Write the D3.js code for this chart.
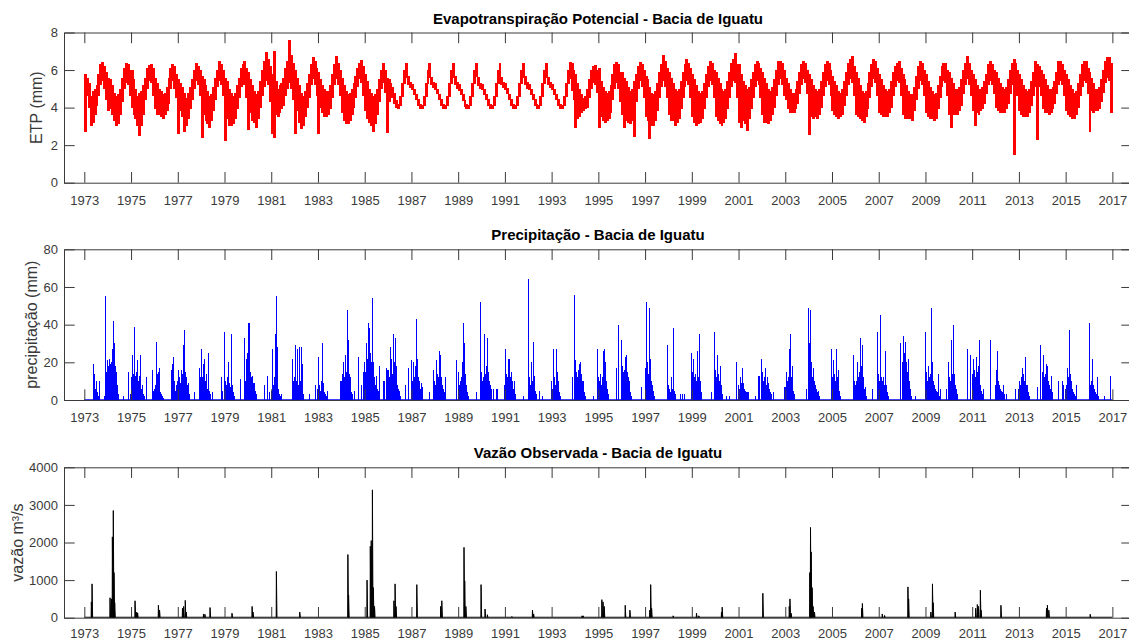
<!DOCTYPE html>
<html>
<head>
<meta charset="utf-8">
<script src="https://cdn.jsdelivr.net/npm/d3@7"></script>
<style>
  body { margin: 0; background: #ffffff; }
  svg { display: block; }
  text { font-family: "Liberation Sans", Arial, Helvetica, sans-serif; }
</style>
</head>
<body>
<svg id="chart" width="1129" height="640"></svg>
<script>
// ---------------------------------------------------------------
// Series: Iguatu basin, 1973-2016
// ---------------------------------------------------------------
const firstYear = 1973;
const lastYear = 2017;
const yearTicks = d3.range(1973, 2018, 2);

// Potential evapotranspiration (mm/day): monthly upper / lower envelope, one row per year
const etpHigh = [
  [5.8,5.6,5.3,4.6,4.9,5.0,5.2,5.8,6.3,6.45,6.2,5.9],   // 1973
  [5.6,5.5,5.2,4.8,4.6,4.7,5.0,5.6,6.1,6.35,6.3,6.0],
  [6.0,5.5,5.0,4.6,4.8,4.9,5.2,5.6,6.1,6.25,6.3,6.1],   // 1975
  [5.6,5.3,5.0,4.9,4.7,4.8,5.1,5.6,6.1,6.3,6.2,5.8],
  [5.5,5.3,5.1,4.8,4.5,4.8,5.1,5.5,6.0,6.4,6.2,6.0],    // 1977
  [5.7,5.5,5.2,4.9,4.6,4.7,5.1,5.6,6.0,6.5,6.3,6.0],
  [5.6,5.4,5.0,4.8,4.6,4.8,5.2,5.6,6.1,6.3,6.5,6.1],    // 1979
  [5.9,5.5,5.2,4.9,4.7,4.9,5.4,6.0,6.5,6.95,6.6,6.2],
  [5.8,7.0,5.4,5.0,5.2,5.3,5.6,6.1,6.5,7.6,6.8,6.4],    // 1981
  [6.0,5.6,5.2,4.8,4.6,4.9,5.3,5.8,6.3,6.7,6.5,6.1],
  [5.9,5.5,5.2,5.0,4.9,4.9,5.2,5.8,6.3,6.75,6.4,6.0],   // 1983
  [5.6,5.2,4.9,4.7,4.8,5.0,5.3,5.7,6.1,6.4,6.55,6.2],
  [5.8,5.4,5.0,4.8,4.6,4.7,5.0,5.5,6.0,6.35,6.0,5.6],   // 1985
  [5.5,5.3,5.1,4.8,4.4,4.2,4.6,5.3,6.0,6.35,5.7,5.35],
  [5.25,5.0,4.7,4.45,4.2,4.15,4.6,5.3,6.0,6.35,5.65,5.35], // 1987
  [5.3,5.0,4.75,4.45,4.2,4.15,4.6,5.3,6.0,6.35,5.7,5.35],
  [5.25,5.0,4.7,4.4,4.2,4.15,4.6,5.3,6.0,6.4,5.65,5.3],  // 1989
  [5.25,5.0,4.7,4.45,4.2,4.15,4.6,5.3,6.0,6.35,5.65,5.35],
  [5.3,5.05,4.7,4.45,4.2,4.15,4.6,5.3,6.0,6.35,5.7,5.35], // 1991
  [5.25,5.0,4.7,4.45,4.2,4.15,4.6,5.3,6.0,6.35,5.65,5.35],
  [5.25,5.0,4.7,4.45,4.2,4.15,4.6,5.3,6.0,6.45,6.4,6.0],  // 1993
  [5.8,5.3,5.0,4.7,4.5,4.6,5.0,5.5,6.0,6.2,6.26,6.0],
  [6.1,5.4,5.1,4.9,4.8,4.9,5.2,5.8,6.3,6.45,6.3,5.9],    // 1995
  [5.9,5.6,5.4,5.1,4.9,5.0,5.4,5.8,6.2,6.45,6.3,6.0],
  [5.7,5.5,5.1,4.8,4.7,4.9,5.3,5.9,6.3,6.8,6.5,6.1],     // 1997
  [5.9,5.6,5.3,5.0,4.9,5.0,5.4,5.9,6.3,6.6,6.4,6.1],
  [5.8,5.5,5.2,4.9,4.8,4.9,5.3,5.8,6.2,6.5,6.4,6.0],     // 1999
  [5.9,5.6,5.3,5.0,4.9,5.0,5.4,5.9,6.4,6.6,6.9,6.3],
  [6.3,5.8,5.4,5.2,5.0,5.1,5.5,5.9,6.3,6.5,6.4,6.1],     // 2001
  [5.9,5.6,5.3,5.0,4.9,5.1,5.5,6.0,6.5,6.5,6.4,6.0],
  [5.6,5.3,5.0,4.8,4.8,5.0,5.4,5.9,6.3,6.5,6.4,6.0],     // 2003
  [5.8,5.5,5.2,5.0,4.9,5.0,5.4,5.9,6.3,6.5,6.4,6.0],
  [5.7,5.4,5.2,4.9,4.8,5.0,5.4,5.9,6.4,6.6,6.75,6.2],    // 2005
  [5.9,5.6,5.2,4.9,4.8,4.9,5.3,5.9,6.3,6.6,6.5,6.1],
  [5.8,5.5,5.2,5.0,4.9,5.0,5.4,5.9,6.2,6.4,6.5,6.1],     // 2007
  [5.8,5.5,5.2,4.9,4.7,4.7,5.1,5.7,6.2,6.5,6.4,6.0],
  [5.8,5.4,5.1,4.9,4.7,4.8,5.2,5.7,6.2,6.4,6.4,6.0],     // 2009
  [5.9,5.6,5.3,5.0,5.0,5.1,5.5,6.0,6.4,6.75,6.4,6.0],
  [5.8,5.5,5.2,5.0,5.0,5.1,5.4,5.8,6.3,6.5,6.3,6.0],     // 2011
  [5.9,5.6,5.3,5.1,5.0,5.1,5.5,6.0,6.4,6.6,6.4,6.0],
  [5.8,5.5,5.2,5.0,4.9,5.0,5.4,5.9,6.5,6.3,6.2,6.0],     // 2013
  [5.8,5.5,5.2,5.0,5.0,5.1,5.4,5.9,6.5,6.5,6.3,6.0],
  [5.8,5.5,5.2,5.0,4.8,4.9,5.3,5.8,6.3,6.5,6.5,6.1],     // 2015
  [5.9,5.6,5.3,5.0,5.0,5.1,5.5,6.0,6.5,6.7,6.7,6.4]
];
const etpLow = [
  [2.7,4.6,4.0,3.0,3.2,3.6,4.1,4.6,5.2,5.4,5.0,4.4],    // 1973
  [3.8,3.9,3.6,3.3,3.0,3.1,3.6,4.3,5.0,5.3,5.2,4.6],
  [4.0,3.6,3.4,3.0,2.5,3.0,3.6,4.4,5.0,5.4,5.3,4.6],    // 1975
  [3.9,3.6,3.6,3.5,3.4,3.6,3.8,4.2,5.0,5.4,5.0,4.5],
  [2.6,3.8,3.5,2.7,3.0,3.4,3.9,4.4,5.0,5.4,5.2,4.6],    // 1977
  [2.4,3.6,3.3,3.1,2.9,3.3,3.8,4.4,5.1,5.4,5.2,4.6],
  [2.2,3.4,3.0,3.0,3.1,3.4,3.9,4.5,5.1,5.3,5.2,4.5],    // 1979
  [2.8,3.7,3.3,3.2,2.9,3.4,4.0,4.6,5.1,5.4,5.2,4.3],
  [2.6,2.4,3.6,3.5,3.7,3.9,4.1,4.6,5.0,5.3,5.0,4.4],    // 1981
  [2.6,3.8,3.2,2.85,3.0,3.5,4.0,4.5,5.2,5.5,5.2,4.6],
  [2.6,4.0,3.7,3.5,3.5,3.6,3.9,4.5,5.2,5.5,5.2,4.6],    // 1983
  [3.7,3.3,3.1,3.1,3.3,3.6,4.0,4.5,5.1,5.5,5.3,4.6],
  [3.8,3.4,3.2,3.0,2.7,3.1,3.6,4.3,5.0,5.3,4.8,2.65],   // 1985
  [4.3,4.7,4.5,4.2,4.0,3.95,4.1,4.55,5.25,5.6,5.2,5.05],
  [4.95,4.65,4.4,4.1,3.95,3.95,4.1,4.55,5.25,5.6,5.2,5.05], // 1987
  [4.95,4.7,4.4,4.1,3.95,3.95,4.1,4.55,5.25,5.6,5.2,5.0],
  [4.9,4.65,4.35,4.05,3.95,3.95,4.1,4.55,5.25,5.65,5.15,5.0], // 1989
  [4.95,4.65,4.4,4.1,3.95,3.95,4.1,4.55,5.25,5.6,5.2,5.05],
  [4.95,4.7,4.4,4.1,3.95,3.95,4.1,4.55,5.25,5.6,5.2,5.0],  // 1991
  [4.95,4.65,4.4,4.1,3.95,3.95,4.1,4.55,5.25,5.6,5.2,5.05],
  [4.95,4.65,4.4,4.1,3.95,3.95,4.1,4.55,5.25,5.5,4.9,4.4], // 1993
  [2.9,3.4,3.5,3.7,3.8,3.9,4.0,4.5,5.0,5.3,5.2,4.8],
  [2.9,3.5,3.3,3.2,3.3,3.4,3.7,4.4,5.0,5.3,5.0,4.3],     // 1995
  [3.6,2.9,3.3,3.2,3.1,3.3,2.45,4.3,5.0,5.4,5.1,4.5],
  [3.5,3.3,2.35,3.0,3.0,3.3,3.8,4.5,5.1,5.4,5.1,4.5],    // 1997
  [3.6,3.3,3.3,3.0,3.2,3.4,3.9,4.5,5.1,5.4,5.2,4.5],
  [3.5,3.2,3.0,3.1,3.2,3.4,3.9,4.5,5.1,5.4,5.2,4.5],     // 1999
  [3.5,3.3,3.1,3.0,3.2,3.4,3.9,4.5,5.1,5.4,5.3,4.5],
  [3.2,2.9,3.3,3.1,2.75,3.4,3.9,4.5,5.1,5.4,5.2,4.5],    // 2001
  [3.6,3.2,3.2,3.1,3.3,3.6,4.0,4.6,5.2,5.5,5.2,4.6],
  [4.4,3.9,3.7,3.7,3.7,3.9,4.2,4.7,5.2,5.5,5.3,4.7],     // 2003
  [2.55,3.5,3.4,3.5,3.4,3.6,4.0,4.6,5.1,5.4,5.2,4.6],
  [3.8,3.6,3.5,3.4,3.5,3.6,4.1,4.6,5.2,5.5,5.3,4.6],     // 2005
  [3.6,3.5,3.4,3.3,3.2,3.5,3.9,4.5,5.1,5.5,5.3,4.6],
  [3.7,3.6,3.5,3.5,3.5,3.7,4.0,4.6,5.1,5.4,5.3,4.6],     // 2007
  [3.6,3.4,3.4,3.4,3.4,3.3,3.8,4.4,5.0,5.4,5.2,4.6],
  [3.7,3.5,3.4,3.4,3.3,3.4,3.9,4.5,5.1,5.4,5.3,4.6],     // 2009
  [3.6,2.9,3.6,3.6,3.6,3.8,4.1,4.7,5.2,5.5,5.2,4.6],
  [3.8,3.0,3.7,3.6,3.8,3.9,4.2,4.7,5.2,5.4,5.2,4.7],     // 2011
  [4.0,3.8,3.7,3.7,3.7,3.9,4.2,4.7,5.2,1.5,5.2,4.6],
  [3.8,3.6,3.5,3.5,3.5,3.7,4.1,4.6,5.1,2.3,5.1,4.6],     // 2013
  [3.9,3.7,3.7,3.6,3.7,3.9,4.2,4.7,5.2,5.4,5.2,4.6],
  [3.8,3.6,3.5,3.4,3.4,3.6,4.0,4.6,5.1,5.4,5.3,4.7],     // 2015
  [2.7,3.8,3.7,3.8,3.8,3.9,4.3,4.8,5.3,5.6,5.4,3.7]
];

// Precipitation (mm): largest daily total in each half-month, one row per year
const precip = [
  [0,0,0,0,0,0,0,0,0,19,14,6,10,3,4,2,10,0,0,0,0,2,55,15],        // 1973
  [21,18,22,19,20,27,42,30,18,15,8,3,0,0,0,0,2,0,0,0,0,15,0,3],
  [12,24,14,11,39,13,15,21,10,13,24,6,8,3,2,0,12,0,0,0,0,0,16,5],  // 1975
  [6,8,31,14,15,17,4,3,2,1,0,0,0,0,0,0,0,0,16,19,23,10,5,8],
  [10,16,12,9,16,14,29,37,15,12,8,9,3,0,0,0,0,4,0,0,0,0,17,12],    // 1977
  [27,12,19,22,10,14,8,6,25,5,3,0,4,0,0,0,0,0,0,0,0,12,5,0],
  [36,10,8,12,20,9,7,35,8,4,2,0,0,0,0,0,11,0,0,0,0,33,10,22],      // 1979
  [25,41,41,15,12,13,9,9,5,3,0,0,0,0,0,0,0,8,0,0,13,0,4,0],
  [5,27,8,12,35,55,28,6,3,2,0,3,0,0,0,0,0,0,0,0,0,0,22,10],        // 1981
  [12,29,10,27,8,28,10,28,19,3,0,0,0,0,0,3,0,0,0,0,0,8,0,0],
  [6,23,8,5,10,30,9,4,3,2,5,0,0,0,0,0,0,0,0,0,0,0,0,10],           // 1983
  [10,14,20,12,24,15,48,32,14,12,4,3,0,0,5,0,0,0,23,0,0,8,0,15],
  [20,15,30,22,41,38,25,20,54,20,12,8,13,6,5,18,0,0,0,10,10,0,17,16], // 1985
  [16,12,28,15,22,14,35,20,33,18,8,6,5,2,0,0,0,0,8,0,0,17,0,0],
  [21,10,20,12,18,43,22,12,10,6,9,7,0,0,0,0,0,0,0,4,0,0,0,16],     // 1987
  [10,8,21,14,12,26,24,12,8,6,4,12,0,0,0,0,0,0,0,0,0,0,21,0],
  [15,8,10,12,20,41,25,30,14,8,4,2,0,0,0,0,0,0,0,4,0,0,0,52],      // 1989
  [15,10,12,35,14,18,33,15,10,8,6,0,6,0,0,6,6,0,0,0,0,0,0,0],
  [8,27,14,12,22,22,12,15,10,6,10,3,0,0,0,0,0,0,0,2,0,0,0,0],      // 1991
  [64,12,8,20,10,31,13,5,3,0,0,0,5,0,0,2,0,0,0,0,0,0,0,0],
  [10,6,27,12,8,27,15,10,4,2,0,0,0,0,0,0,0,0,0,0,0,12,0,0],        // 1993
  [56,21,15,12,16,19,20,14,10,10,4,2,0,0,0,0,0,0,0,2,0,0,0,27],
  [12,10,14,8,12,26,27,20,10,6,3,0,0,0,0,0,0,0,0,17,0,40,0,0],     // 1995
  [32,18,15,16,23,24,15,12,10,4,2,0,0,0,0,0,0,0,0,0,7,0,0,0],
  [17,52,20,14,12,49,22,10,8,5,2,0,0,0,0,0,0,0,0,0,0,0,0,29],      // 1997
  [8,6,4,12,6,38,5,3,0,0,0,0,3,0,3,0,3,0,0,0,0,0,0,0],
  [25,15,22,12,14,10,26,12,35,10,4,0,0,0,0,0,0,0,0,0,4,0,0,36],    // 1999
  [16,12,24,14,10,18,8,6,3,0,0,0,2,0,0,2,0,0,0,0,0,0,20,0],
  [8,6,12,9,17,9,6,5,4,4,4,0,0,0,0,0,0,2,0,0,0,13,13,0],           // 2001
  [22,15,10,12,17,8,12,9,6,4,3,0,4,0,0,0,0,0,0,0,0,0,0,7],
  [7,15,10,12,27,35,12,18,5,3,0,0,0,0,0,0,0,0,0,0,0,0,6,0],        // 2003
  [49,30,48,20,12,17,10,8,6,4,5,2,0,0,0,0,0,0,0,0,0,0,0,0],
  [27,12,21,14,10,27,12,16,5,2,0,0,0,0,0,0,0,0,0,0,0,0,24,10],     // 2005
  [8,10,20,12,15,33,18,29,12,6,7,2,0,0,0,0,0,0,6,0,0,0,0,36],
  [14,10,45,12,10,12,8,26,8,4,2,0,0,0,0,0,0,0,0,0,0,0,30,0],       // 2007
  [20,34,25,31,18,20,15,22,10,6,2,0,0,0,2,0,0,0,0,0,0,0,0,0],
  [36,15,10,18,12,14,49,20,10,8,6,5,4,14,2,6,0,0,0,0,0,0,6,0],     // 2009
  [20,12,10,32,14,40,14,8,6,3,0,0,0,0,0,0,0,0,0,27,0,0,24,0],
  [14,22,16,12,23,15,18,10,32,8,5,3,6,0,0,0,0,0,0,32,0,0,0,0],     // 2011
  [8,16,26,10,8,6,5,4,8,3,0,3,0,0,0,0,0,0,0,0,0,6,0,0],
  [6,10,8,12,17,14,10,23,8,8,4,2,0,0,0,0,0,0,0,7,0,0,29,0],        // 2013
  [15,24,12,14,19,18,10,8,6,13,4,2,0,0,0,0,0,10,0,0,0,10,8,0],
  [6,8,17,12,37,14,10,6,4,3,2,8,0,0,0,0,0,0,0,0,0,0,0,0],          // 2015
  [41,12,8,10,22,8,6,4,3,12,2,0,0,0,0,0,2,0,0,0,0,0,13,0]
];

// Observed discharge (m³/s): flood peaks as [decimal year, peak]
const flowPeaks = [
  [1973.30,420],[1973.33,900],
  [1974.10,530],[1974.16,500],[1974.20,2150],[1974.24,2850],[1974.27,1200],[1974.30,400],
  [1975.17,450],[1975.22,150],[1975.28,130],
  [1976.17,330],[1976.22,200],
  [1977.20,250],[1977.25,300],[1977.32,460],[1977.36,150],
  [1978.10,100],[1978.16,90],[1978.38,270],
  [1979.32,120],
  [1980.18,300],[1980.22,150],
  [1981.22,1230],
  [1982.22,150],
  [1984.28,1680],[1984.31,600],
  [1985.10,1000],[1985.24,1900],[1985.28,2050],[1985.33,3400],[1985.37,800],[1985.42,300],
  [1986.25,450],[1986.30,900],[1986.34,300],
  [1987.23,880],
  [1988.25,300],[1988.30,450],
  [1989.25,1870],[1989.28,980],[1989.33,300],
  [1989.98,880],
  [1990.15,230],[1990.25,80],
  [1991.30,30],
  [1992.18,200],[1992.23,100],
  [1994.30,50],[1994.35,50],
  [1995.15,480],[1995.20,420],[1995.25,300],
  [1996.15,330],[1996.35,200],
  [1997.20,200],[1997.24,880],[1997.28,250],
  [1998.20,50],
  [1999.20,120],[1999.30,50],
  [2000.27,150],[2000.30,280],
  [2002.04,650],
  [2003.17,300],[2003.20,500],[2003.25,120],
  [2004.05,1200],[2004.08,2400],[2004.11,1750],[2004.15,800],[2004.19,300],[2004.25,150],
  [2006.27,250],[2006.30,380],
  [2007.15,100],[2007.25,60],
  [2008.25,820],[2008.28,500],
  [2009.23,150],[2009.30,900],[2009.33,400],
  [2010.27,150],
  [2011.15,250],[2011.22,350],[2011.27,300],[2011.35,730],[2011.38,200],
  [2012.23,330],
  [2014.18,250],[2014.22,330],[2014.28,200],
  [2016.05,90]
];

const etpTicks = [0, 2, 4, 6, 8];
const precipTicks = [0, 20, 40, 60, 80];
const flowTicks = [0, 1000, 2000, 3000, 4000];

// ---------------------------------------------------------------
// Layout
// ---------------------------------------------------------------
const svg = d3.select("#chart");
const axisColor = "#3a3a3a";
const left = 64, right = 1132;
const x = d3.scaleLinear().domain([1972.13, 2017.84]).range([left, right]);
const tickLen = 10.7;

const panels = [
  { top: 32.5,  bottom: 182.7, max: 8,    ticks: etpTicks,    title: "Evapotranspiração Potencial - Bacia de Iguatu", ylabel: "ETP (mm)",          labelX: 37.5, pad: 12.8 },
  { top: 249.3, bottom: 400,   max: 80,   ticks: precipTicks, title: "Precipitação - Bacia de Iguatu",                ylabel: "precipitação (mm)", labelX: 32.5, pad: 12.8 },
  { top: 467.3, bottom: 617.7, max: 4000, ticks: flowTicks,   title: "Vazão Observada - Bacia de Iguatu",             ylabel: "vazão m³/s",        labelX: 18.5, pad: 11.2 }
];
panels.forEach(p => { p.y = d3.scaleLinear().domain([0, p.max]).range([p.bottom, p.top]); });

const defs = svg.append("defs");
panels.forEach((p, i) => {
  defs.append("clipPath").attr("id", "clip" + i)
    .append("rect").attr("x", left).attr("y", p.top).attr("width", right - left).attr("height", p.bottom - p.top);
});

// ---------------------------------------------------------------
// Data layers
// ---------------------------------------------------------------
// ETP band: one column per month spanning that month's range
{
  const p = panels[0];
  const months = etpHigh.flatMap((row, i) =>
    row.map((hi, m) => ({ t: firstYear + i + m / 12, hi, lo: etpLow[i][m] })));
  svg.append("g").attr("clip-path", "url(#clip0)")
    .attr("shape-rendering", "crispEdges")
    .selectAll("rect").data(months).join("rect")
    .attr("x", d => Math.floor(x(d.t)))
    .attr("width", d => Math.floor(x(d.t + 1 / 12)) - Math.floor(x(d.t)) + 1)
    .attr("y", d => p.y(d.hi))
    .attr("height", d => p.y(d.lo) - p.y(d.hi))
    .attr("fill", "#ff0000");
}

// Precipitation sticks
{
  const p = panels[1];
  const g = svg.append("g").attr("clip-path", "url(#clip1)");
  g.append("line")
    .attr("x1", x(firstYear)).attr("x2", x(lastYear))
    .attr("y1", p.y(0)).attr("y2", p.y(0))
    .attr("stroke", "#0000ff").attr("stroke-width", 1.5);
  const halves = precip.flatMap((row, i) =>
    row.map((v, s) => ({ t: firstYear + i + s / 24, v }))).filter(d => d.v > 0);
  g.append("g").attr("shape-rendering", "crispEdges")
    .selectAll("rect").data(halves).join("rect")
    .attr("x", d => Math.floor(x(d.t)))
    .attr("width", 1)
    .attr("y", d => p.y(d.v))
    .attr("height", d => p.y(0) - p.y(d.v))
    .attr("fill", "#0000ff");
}

// Discharge spikes
{
  const p = panels[2];
  const g = svg.append("g").attr("clip-path", "url(#clip2)");
  g.append("line")
    .attr("x1", x(firstYear)).attr("x2", x(lastYear))
    .attr("y1", p.y(0)).attr("y2", p.y(0))
    .attr("stroke", "#000000").attr("stroke-width", 2);
  const rise = 3 / 365, fall = 9 / 365;
  const spike = d3.line().x(d => x(d[0])).y(d => p.y(d[1]));
  g.selectAll("path").data(flowPeaks).join("path")
    .attr("d", ([t, v]) => spike([[t - rise, 0], [t, v], [t + fall, 0]]))
    .attr("fill", "#000000")
    .attr("stroke", "#000000").attr("stroke-width", 1)
    .attr("stroke-linejoin", "miter");
}

// ---------------------------------------------------------------
// Axes, titles and labels
// ---------------------------------------------------------------
function styleAxis(sel) {
  sel.attr("font-family", null);
  sel.select(".domain").attr("stroke", axisColor).attr("stroke-width", 1);
  sel.selectAll(".tick line").attr("stroke", axisColor).attr("stroke-width", 1);
  sel.selectAll(".tick text").attr("fill", axisColor).attr("font-size", 13);
}

panels.forEach(p => {
  const g = svg.append("g");
  g.append("g").attr("transform", `translate(0,${p.bottom})`)
    .call(d3.axisBottom(x).tickValues(yearTicks).tickFormat(d3.format("d"))
      .tickSize(-tickLen).tickSizeOuter(0).tickPadding(p.pad))
    .call(styleAxis);
  g.append("g").attr("transform", `translate(0,${p.top})`)
    .call(d3.axisTop(x).tickValues(yearTicks).tickFormat("")
      .tickSize(-tickLen).tickSizeOuter(0))
    .call(styleAxis);
  g.append("g").attr("transform", `translate(${left},0)`)
    .call(d3.axisLeft(p.y).tickValues(p.ticks).tickFormat(d3.format("d"))
      .tickSize(-tickLen).tickSizeOuter(0).tickPadding(6))
    .call(styleAxis);
  g.append("g").attr("transform", `translate(${right},0)`)
    .call(d3.axisRight(p.y).tickValues(p.ticks).tickFormat("")
      .tickSize(-tickLen).tickSizeOuter(0))
    .call(styleAxis);

  g.append("text")
    .attr("x", (left + right) / 2).attr("y", p.top - 9)
    .attr("text-anchor", "middle")
    .attr("font-size", 15).attr("font-weight", "bold").attr("fill", "#000000")
    .text(p.title);

  g.append("text")
    .attr("transform", `translate(${p.labelX},${(p.top + p.bottom) / 2}) rotate(-90)`)
    .attr("text-anchor", "middle").attr("dominant-baseline", "middle")
    .attr("font-size", 16).attr("fill", axisColor)
    .text(p.ylabel);
});
</script>
</body>
</html>
